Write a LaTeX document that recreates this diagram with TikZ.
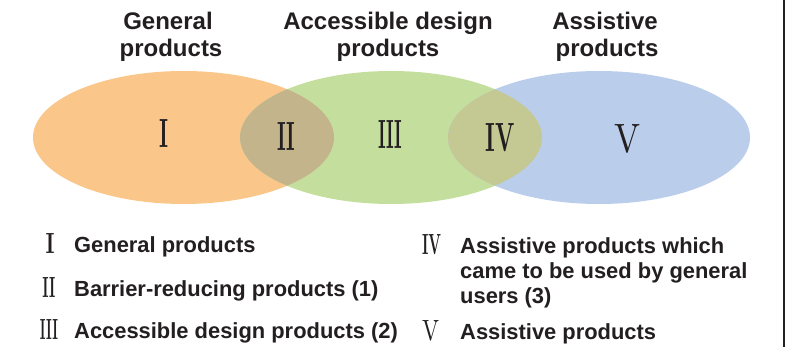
\documentclass[tikz,border=0pt]{standalone}
\usepackage{fontspec}
\usepackage{graphicx}
\newfontfamily\lsans{Liberation Sans}
\definecolor{orangeF}{HTML}{FBC68A}
\definecolor{greenF}{HTML}{C4DE9E}
\definecolor{blueF}{HTML}{BACDEA}
\definecolor{tanF}{HTML}{C4B48C}
\definecolor{oliveF}{HTML}{C4C994}
\definecolor{inkF}{HTML}{231F20}
\newcommand{\rnum}[3]{\resizebox{#1}{#2}{\rmfamily\bfseries #3}}
\newcommand{\rnumlight}[3]{\resizebox{#1}{#2}{\rmfamily #3}}
\begin{document}
\begin{tikzpicture}[x=1pt,y=-1pt,
  title/.style={anchor=base,inner sep=0pt,text=inkF,font=\lsans\bfseries\fontsize{24}{27}\selectfont},
  leg/.style={anchor=base west,inner sep=0pt,text=inkF,font=\lsans\bfseries\fontsize{21.9}{25}\selectfont},
  numeral/.style={anchor=base,inner sep=0pt,text=inkF}]
\useasboundingbox (0,0) rectangle (787,347);
% ellipses
\fill[orangeF] (183.5,137.5) ellipse [x radius=150.5pt, y radius=66.5pt];
\fill[greenF] (391,137.5) ellipse [x radius=151pt, y radius=66.5pt];
\fill[blueF] (599,137.5) ellipse [x radius=151pt, y radius=66.5pt];
\begin{scope}
  \clip (183.5,137.5) ellipse [x radius=150.5pt, y radius=66.5pt];
  \fill[tanF] (391,137.5) ellipse [x radius=151pt, y radius=66.5pt];
\end{scope}
\begin{scope}
  \clip (599,137.5) ellipse [x radius=151pt, y radius=66.5pt];
  \fill[oliveF] (391,137.5) ellipse [x radius=151pt, y radius=66.5pt];
\end{scope}
% titles
\node[title] (t1a) at (168,30) {General};
\node[title] (t1b) at (171,57) {products};
\node[title] (t2a) at (388,30) {Accessible design};
\node[title] (t2b) at (388,57) {products};
\node[title] (t3a) at (605,30) {Assistive};
\node[title] (t3b) at (607,57) {products};
% numerals in ellipses
\node[numeral] (n1) at (164,148) {\rnum{9pt}{28pt}{I}};
\node[numeral] (n2) at (286,151) {\rnum{18pt}{28pt}{II}};
\node[numeral] (n3) at (390,149) {\rnum{24pt}{28pt}{III}};
\node[numeral] (n4) at (500,152) {\rnum{29pt}{28pt}{IV}};
\node[numeral] (n5) at (627,153) {\rnumlight{26pt}{28pt}{V}};
% legend left
\node[numeral] (l1n) at (50,254) {\rnum{9pt}{20pt}{I}};
\node[leg] (l1) at (74,253) {General products};
\node[numeral] (l2n) at (49,298) {\rnum{13pt}{20pt}{II}};
\node[leg] (l2) at (74,297) {Barrier-reducing products (1)};
\node[numeral] (l3n) at (49,339) {\rnum{18pt}{20pt}{III}};
\node[leg] (l3) at (74,338) {Accessible design products (2)};
% legend right
\node[numeral] (r4n) at (431.5,255) {\rnum{19pt}{20pt}{IV}};
\node[leg] (r4a) at (460,254) {Assistive products which};
\node[leg] (r4b) at (460,279) {came to be used by general};
\node[leg] (r4c) at (460,304) {users (3)};
\node[numeral] (r5n) at (430.5,340) {\rnumlight{17pt}{20pt}{V}};
\node[leg] (r5) at (460,339) {Assistive products};
% right border
\draw[line width=1.5pt,inkF] (784,0) -- (784,347);
\end{tikzpicture}
\end{document}
